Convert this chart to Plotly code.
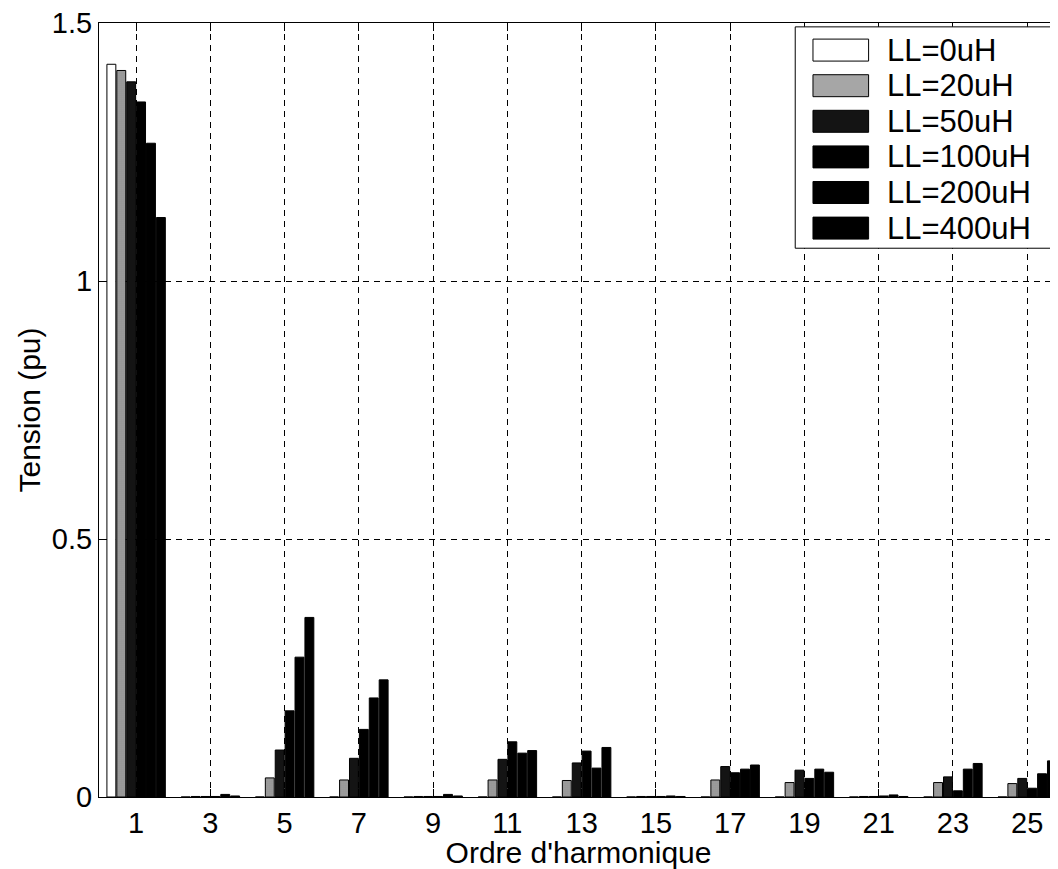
import plotly.graph_objects as go

harmonics = [1, 3, 5, 7, 9, 11, 13, 15, 17, 19, 21, 23, 25]
series_names = ["LL=0uH", "LL=20uH", "LL=50uH", "LL=100uH", "LL=200uH", "LL=400uH"]
LL0 = [1.42, 0, 0, 0, 0, 0, 0, 0, 0, 0, 0, 0, 0]
LL20 = [1.408, 0.001, 0.037, 0.033, 0.001, 0.033, 0.032, 0.001, 0.033, 0.028, 0.001, 0.028, 0.026]
LL50 = [1.386, 0.001, 0.091, 0.075, 0.001, 0.073, 0.066, 0.001, 0.059, 0.052, 0.001, 0.039, 0.036]
LL100 = [1.347, 0.001, 0.167, 0.131, 0.001, 0.107, 0.089, 0.001, 0.047, 0.036, 0.002, 0.012, 0.017]
LL200 = [1.267, 0.005, 0.271, 0.192, 0.005, 0.085, 0.056, 0.002, 0.054, 0.054, 0.004, 0.054, 0.045]
LL400 = [1.123, 0.002, 0.348, 0.227, 0.002, 0.090, 0.096, 0.001, 0.062, 0.048, 0.001, 0.065, 0.070]
series_values = [LL0, LL20, LL50, LL100, LL200, LL400]
y_ticks = [0, 0.5, 1, 1.5]
y_ticktext = ["0", "0.5", "1", "1.5"]

fills = ["#ffffff", "#a6a6a6", "#141414", "#000000", "#000000", "#000000"]
FONT = "Liberation Sans, Arial, Helvetica, sans-serif"

fig = go.Figure()
for i, (name, vals) in enumerate(zip(series_names, series_values)):
    marker = dict(color=fills[i], line=dict(color="black", width=1))
    if i == 1:
        marker["pattern"] = dict(shape=".", bgcolor="#bdbdbd", fgcolor="#606060",
                                 size=2, solidity=0.4, fillmode="replace")
    fig.add_trace(go.Bar(x=harmonics, y=vals, name=name, marker=marker,
                         showlegend=False))

# custom legend (box, swatches, labels)
shapes = [dict(type="rect", xref="paper", yref="paper", x0=0.726, x1=1.01,
               y0=0.709, y1=0.995, line=dict(color="black", width=1),
               fillcolor="white", layer="above")]
annotations = []
row_y = [0.965, 0.919, 0.873, 0.827, 0.781, 0.735]
for i, name in enumerate(series_names):
    yc = row_y[i]
    shapes.append(dict(type="rect", xref="paper", yref="paper",
                       x0=0.7445, x1=0.8025, y0=yc - 0.0142, y1=yc + 0.0142,
                       line=dict(color="black", width=1), fillcolor=fills[i],
                       layer="above"))
    annotations.append(dict(xref="paper", yref="paper", x=0.820, y=yc,
                            text=name, showarrow=False, xanchor="left",
                            yanchor="middle",
                            font=dict(family=FONT, size=31, color="black")))

fig.update_layout(
    width=1050, height=861,
    margin=dict(l=91, r=0, t=15, b=72),
    paper_bgcolor="white", plot_bgcolor="white",
    barmode="group", bargap=0.2, bargroupgap=0.1,
    font=dict(family=FONT, size=30, color="black"),
    shapes=shapes, annotations=annotations,
    xaxis=dict(range=[0, 25.83], tickmode="array", tickvals=harmonics,
               ticktext=[str(h) for h in harmonics], automargin=False,
               showgrid=True, gridcolor="black", gridwidth=1,
               griddash="6px,5px", showline=True, linecolor="black",
               linewidth=1, mirror="ticks", ticks="inside", ticklen=8,
               tickcolor="black", zeroline=False,
               tickfont=dict(family=FONT, size=29),
               title=dict(text="Ordre d'harmonique", standoff=0,
                          font=dict(family=FONT, size=30))),
    yaxis=dict(range=[0, 1.5], tickmode="array", tickvals=y_ticks,
               ticktext=y_ticktext, automargin=False, showgrid=True,
               gridcolor="black", gridwidth=1, griddash="6px,5px",
               showline=True, linecolor="black", linewidth=1,
               ticks="inside", ticklen=8, tickcolor="black", zeroline=False,
               ticklabeloverflow="allow",
               tickfont=dict(family=FONT, size=29),
               title=dict(text="Tension (pu)", standoff=2,
                          font=dict(family=FONT, size=30))),
)

fig.write_html("out.html")
